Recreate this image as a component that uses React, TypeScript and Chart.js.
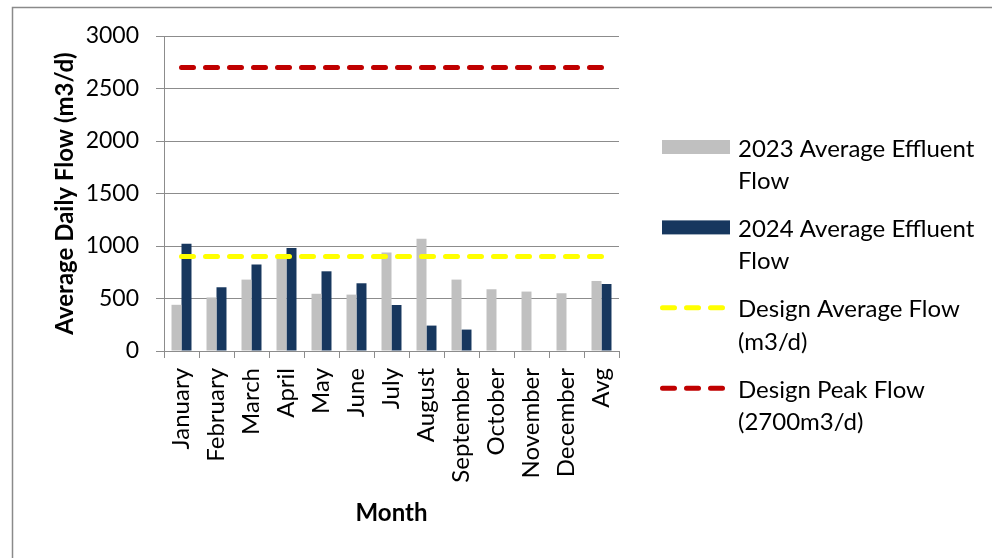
import React, { useEffect, useRef } from "react";
import { Chart, registerables } from "chart.js";

Chart.register(...registerables);

// Categories along the x axis
const MONTHS = [
  "January",
  "February",
  "March",
  "April",
  "May",
  "June",
  "July",
  "August",
  "September",
  "October",
  "November",
  "December",
  "Avg",
];

// Average daily effluent flow, m3/d
const FLOW_2023 = [440, 510, 680, 895, 545, 537, 937, 1070, 680, 588, 566, 550, 667];
const FLOW_2024 = [1022, 607, 823, 981, 759, 645, 438, 242, 204, null, null, null, 638];

// Design reference flows, m3/d
const DESIGN_AVERAGE = [900, 900, 900, 900, 900, 900, 900, 900, 900, 900, 900, 900, 900];
const DESIGN_PEAK = [2700, 2700, 2700, 2700, 2700, 2700, 2700, 2700, 2700, 2700, 2700, 2700, 2700];

// Value axis
const Y_MIN = 0;
const Y_MAX = 3000;
const Y_STEP = 500;

// Legend text, wrapped the way it is shown
const LEGEND_2023 = ["2023 Average Effluent", "Flow"];
const LEGEND_2024 = ["2024 Average Effluent", "Flow"];
const LEGEND_AVG = ["Design Average Flow", "(m3/d)"];
const LEGEND_PEAK = ["Design Peak Flow", "(2700m3/d)"];

const FONT = "Lato, 'Open Sans', 'Noto Sans', sans-serif";
const GRID = "#8c8c8c";
const GRAY = "#c0c0c0";
const NAVY = "#17375e";
const YELLOW = "#ffff00";
const RED = "#c00000";

// Outer frame of the chart object
const framePlugin = {
  id: "frame",
  beforeDraw(chart: any) {
    const ctx = chart.ctx;
    ctx.save();
    ctx.fillStyle = "#ffffff";
    ctx.fillRect(0, 0, chart.width, chart.height);
    ctx.strokeStyle = "#8a8a8a";
    ctx.lineWidth = 1.5;
    ctx.strokeRect(12.5, 7.5, chart.width + 40, chart.height + 40);
    ctx.restore();
  },
};

// Legend on the right with wrapped entries
const sideLegendPlugin = {
  id: "sideLegend",
  afterDraw(chart: any) {
    const ctx = chart.ctx;
    const items = chart.data.datasets
      .map((ds: any) => ds)
      .sort((a: any, b: any) => a.legendIndex - b.legendIndex);
    const markerLeft = 662;
    const markerRight = 730;
    const textX = 738;
    const firstCenter = 147;
    const pitch = 80.4;
    const lineGap = 32.5;
    ctx.save();
    ctx.font = `24px ${FONT}`;
    ctx.fillStyle = "#000000";
    ctx.textAlign = "left";
    ctx.textBaseline = "alphabetic";
    items.forEach((ds: any, i: number) => {
      const cy = firstCenter + i * pitch;
      if (ds.type === "line") {
        ctx.save();
        ctx.strokeStyle = ds.borderColor;
        ctx.lineWidth = ds.borderWidth;
        ctx.lineCap = "round";
        ctx.setLineDash(ds.borderDash);
        ctx.beginPath();
        ctx.moveTo(markerLeft + 0.5, cy);
        ctx.lineTo(markerRight - 6.5, cy);
        ctx.stroke();
        ctx.restore();
      } else {
        ctx.fillStyle = ds.backgroundColor;
        ctx.fillRect(markerLeft, cy - 7, markerRight - markerLeft, 14);
        ctx.fillStyle = "#000000";
      }
      (ds.legendLines as string[]).forEach((t, k) => {
        ctx.fillText(t, textX, cy + 9.5 + k * lineGap);
      });
    });
    ctx.restore();
  },
};

export default function App() {
  const canvasRef = useRef<HTMLCanvasElement | null>(null);

  useEffect(() => {
    if (!canvasRef.current) return;
    const chart = new Chart(canvasRef.current, {
      type: "bar",
      data: {
        labels: MONTHS,
        datasets: [
          {
            type: "line",
            label: "Design Peak Flow (2700m3/d)",
            legendLines: LEGEND_PEAK,
            legendIndex: 3,
            data: DESIGN_PEAK,
            borderColor: RED,
            backgroundColor: RED,
            borderWidth: 5,
            borderDash: [12, 12],
            borderCapStyle: "round",
            pointRadius: 0,
            fill: false,
            order: 0,
          },
          {
            type: "line",
            label: "Design Average Flow (m3/d)",
            legendLines: LEGEND_AVG,
            legendIndex: 2,
            data: DESIGN_AVERAGE,
            borderColor: YELLOW,
            backgroundColor: YELLOW,
            borderWidth: 5,
            borderDash: [12, 12],
            borderCapStyle: "round",
            pointRadius: 0,
            fill: false,
            order: 0,
          },
          {
            type: "bar",
            label: "2023 Average Effluent Flow",
            legendLines: LEGEND_2023,
            legendIndex: 0,
            data: FLOW_2023,
            backgroundColor: GRAY,
            borderWidth: 0,
            order: 1,
          },
          {
            type: "bar",
            label: "2024 Average Effluent Flow",
            legendLines: LEGEND_2024,
            legendIndex: 1,
            data: FLOW_2024,
            backgroundColor: NAVY,
            borderWidth: 0,
            order: 1,
          },
        ] as any,
      },
      options: {
        responsive: false,
        animation: false,
        devicePixelRatio: 1,
        categoryPercentage: 0.571,
        barPercentage: 1.0,
        layout: { padding: { top: 36, right: 373, bottom: 0, left: 0 } },
        plugins: {
          legend: { display: false },
          tooltip: { enabled: false },
          title: { display: false },
        },
        scales: {
          x: {
            offset: true,
            grid: {
              display: true,
              drawOnChartArea: false,
              drawTicks: true,
              tickLength: 7,
              color: GRID,
              offset: true,
            },
            border: { display: true, color: GRID, width: 1 },
            ticks: {
              autoSkip: false,
              minRotation: 90,
              maxRotation: 90,
              padding: 10,
              color: "#000000",
              font: { family: FONT, size: 24 },
            },
            title: {
              display: true,
              text: "Month",
              color: "#000000",
              font: { family: FONT, size: 24, weight: "bold" },
              padding: { top: 0, bottom: 30 },
            },
            afterFit: (scale: any) => {
              scale.height = 207;
            },
          },
          y: {
            min: Y_MIN,
            max: Y_MAX,
            ticks: {
              stepSize: Y_STEP,
              padding: 17,
              color: "#000000",
              font: { family: FONT, size: 23 },
              callback: (value: any) => String(value),
            },
            grid: {
              color: GRID,
              drawTicks: true,
              tickLength: 8,
            },
            border: { display: true, color: GRID, width: 1 },
            title: {
              display: true,
              text: "Average Daily Flow (m3/d)",
              color: "#000000",
              font: { family: FONT, size: 24, weight: "bold" },
              padding: { top: 51, bottom: 0 },
            },
            afterFit: (scale: any) => {
              scale.width = 164;
            },
          },
        },
      } as any,
      plugins: [framePlugin, sideLegendPlugin],
    });
    return () => chart.destroy();
  }, []);

  return (
    <div style={{ position: "absolute", left: 0, top: 0, width: 992, height: 558 }}>
      <canvas ref={canvasRef} width={992} height={558} style={{ display: "block" }} />
    </div>
  );
}
